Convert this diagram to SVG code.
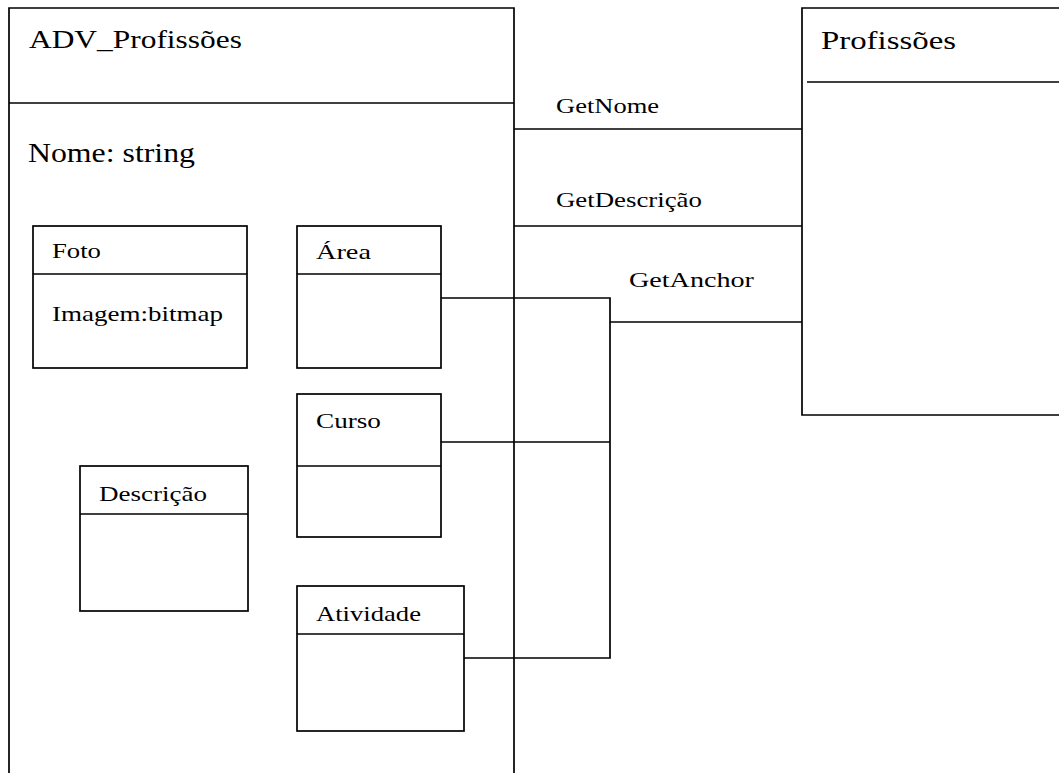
<svg xmlns="http://www.w3.org/2000/svg" width="1059" height="773" viewBox="0 0 1059 773">
  <defs>
    <style>
      .box { fill: none; stroke: #000; stroke-width: 1.7; }
      .ln { fill: none; stroke: #000; stroke-width: 1.7; }
    </style>
  </defs>
  <rect width="1059" height="773" fill="#fff"/>

  <!-- container class: open at the bottom; labels are widened with a horizontal scale -->
  <g id="adv-profissoes" font-family="Liberation Serif, serif" fill="#000">
    <path class="box" d="M9,780 V8 H514 V780"/>
    <line class="ln" x1="9" y1="103" x2="514" y2="103"/>
    <text transform="translate(29,48) scale(1.209,1)" font-size="26">ADV_Profissões</text>
    <text transform="translate(28,162) scale(1.178,1)" font-size="27">Nome: string</text>
  </g>

  <g id="profissoes" font-family="Liberation Serif, serif" fill="#000">
    <path class="box" d="M1065,8 H802 V415 H1065"/>
    <line class="ln" x1="807" y1="82" x2="1065" y2="82"/>
    <text transform="translate(821,49) scale(1.263,1)" font-size="26">Profissões</text>
  </g>

  <g id="foto" font-family="Liberation Serif, serif" fill="#000">
    <rect class="box" x="33" y="226" width="214" height="142"/>
    <line class="ln" x1="33" y1="274" x2="247" y2="274"/>
    <text transform="translate(52,258) scale(1.27,1)" font-size="21">Foto</text>
    <text transform="translate(52,321) scale(1.228,1)" font-size="22">Imagem:bitmap</text>
  </g>

  <g id="area" font-family="Liberation Serif, serif" fill="#000">
    <rect class="box" x="297" y="226" width="144" height="142"/>
    <line class="ln" x1="297" y1="274" x2="441" y2="274"/>
    <text transform="translate(316,259) scale(1.348,1)" font-size="21">Área</text>
  </g>

  <g id="curso" font-family="Liberation Serif, serif" fill="#000">
    <rect class="box" x="297" y="394" width="144" height="143"/>
    <line class="ln" x1="297" y1="466" x2="441" y2="466"/>
    <text transform="translate(316,428) scale(1.295,1)" font-size="21">Curso</text>
  </g>

  <g id="descricao" font-family="Liberation Serif, serif" fill="#000">
    <rect class="box" x="80" y="466" width="168" height="145"/>
    <line class="ln" x1="80" y1="514" x2="248" y2="514"/>
    <text transform="translate(99,501) scale(1.286,1)" font-size="21">Descrição</text>
  </g>

  <g id="atividade" font-family="Liberation Serif, serif" fill="#000">
    <rect class="box" x="297" y="586" width="167" height="145"/>
    <line class="ln" x1="297" y1="634" x2="464" y2="634"/>
    <text transform="translate(316,621) scale(1.268,1)" font-size="21">Atividade</text>
  </g>

  <g id="connectors" font-family="Liberation Serif, serif" font-size="22" fill="#000">
    <line class="ln" x1="514" y1="129" x2="802" y2="129"/>
    <line class="ln" x1="514" y1="226" x2="802" y2="226"/>
    <line class="ln" x1="610" y1="322" x2="802" y2="322"/>
    <path class="ln" d="M441,298 H610 V658 H464"/>
    <line class="ln" x1="441" y1="442" x2="610" y2="442"/>
    <text transform="translate(556,113) scale(1.205,1)">GetNome</text>
    <text transform="translate(556,207) scale(1.22,1)">GetDescrição</text>
    <text transform="translate(629,287) scale(1.279,1)">GetAnchor</text>
  </g>
</svg>
